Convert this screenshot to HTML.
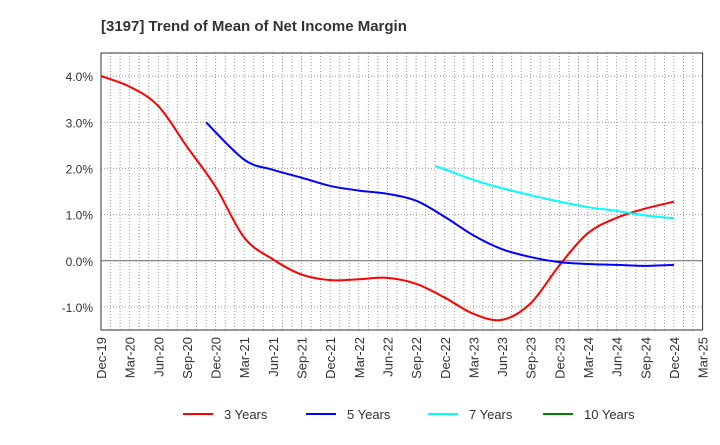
<!DOCTYPE html>
<html><head><meta charset="utf-8"><style>
body{margin:0;background:#fff;font-family:"Liberation Sans",sans-serif;}
</style></head><body>
<svg id="chart" width="720" height="440" xmlns="http://www.w3.org/2000/svg">
<rect width="720" height="440" fill="#fff"/>
<text x="101" y="31" font-size="15" font-weight="bold" fill="#333">[3197]  Trend of Mean of Net Income Margin</text>
<g id="grid"></g><g id="axes"></g><g id="series"></g><g id="legend"></g>
</svg>
<script>
const xLabels=["Dec-19","Mar-20","Jun-20","Sep-20","Dec-20","Mar-21","Jun-21","Sep-21","Dec-21","Mar-22","Jun-22","Sep-22","Dec-22","Mar-23","Jun-23","Sep-23","Dec-23","Mar-24","Jun-24","Sep-24","Dec-24","Mar-25"];
const yTicks=[4,3,2,1,0,-1];
const yTickLabels=["4.0%","3.0%","2.0%","1.0%","0.0%","-1.0%"];
const seriesNames=["3 Years","5 Years","7 Years","10 Years"];
const seriesColors=["#ff0000","#0000ff","#00ffff","#008000"];
// months since Dec-19
const m3=[0,3,6,9,12,15,18,21,24,27,30,33,36,39,42,45,48,51,54,57,60];
const v3=[4.0,3.77,3.35,2.47,1.6,0.5,0.03,-0.3,-0.42,-0.4,-0.37,-0.5,-0.8,-1.15,-1.28,-0.92,-0.1,0.6,0.93,1.13,1.28];
const m5=[11,15,18,21,24,27,30,33,36,39,42,45,48,51,54,57,60];
const v5=[3.0,2.19,1.97,1.8,1.62,1.52,1.45,1.3,0.95,0.55,0.25,0.08,-0.03,-0.07,-0.09,-0.11,-0.09];
const m7=[35,36,39,42,45,48,51,54,57,60];
const v7=[2.05,1.98,1.75,1.57,1.42,1.28,1.16,1.08,0.98,0.92];
const m10=[];const v10=[];
const L=101,R=702.6,T=53,B=330,yMin=-1.5,yMax=4.5,mMax=63;
const X=m=>L+(R-L)*m/mMax, Y=v=>B-(B-T)*(v-yMin)/(yMax-yMin);
const NS="http://www.w3.org/2000/svg";
function mk(t,a,p){const e=document.createElementNS(NS,t);for(const k in a)e.setAttribute(k,a[k]);p.appendChild(e);return e;}
const grid=document.getElementById('grid'),axes=document.getElementById('axes'),ser=document.getElementById('series'),leg=document.getElementById('legend');
for(let m=1;m<mMax;m++){const l=mk('line',{x1:X(m),x2:X(m),y1:T,y2:B,stroke:'#999','stroke-width':1,'stroke-dasharray':'1,2'},grid);

}
yTicks.forEach((v,i)=>{const l=mk('line',{x1:L,x2:R,y1:Y(v),y2:Y(v),stroke:v===0?'#666':'#999','stroke-width':1,'stroke-dasharray':v===0?'':'1,2'},grid);


const t=mk('text',{x:L-8,y:Y(v)+5,'text-anchor':'end','font-size':12,fill:'#333'},axes);t.textContent=yTickLabels[i];

});
const fr=mk('rect',{x:L,y:T,width:R-L,height:B-T,fill:'none',stroke:'#333','stroke-width':1},axes);


xLabels.forEach((s,i)=>{const x=X(i*3);const t=mk('text',{x:0,y:0,'text-anchor':'end','font-size':13,fill:'#333',transform:`translate(${x+5},${B+7}) rotate(-90)`},axes);t.textContent=s;

});
function path(ms,vs){const p=ms.map((m,i)=>[X(m),Y(vs[i])]);if(p.length<2)return '';let d=`M${p[0][0]},${p[0][1]}`;
for(let i=0;i<p.length-1;i++){const p0=p[Math.max(0,i-1)],p1=p[i],p2=p[i+1],p3=p[Math.min(p.length-1,i+2)];
const c1=[p1[0]+(p2[0]-p0[0])/6,p1[1]+(p2[1]-p0[1])/6],c2=[p2[0]-(p3[0]-p1[0])/6,p2[1]-(p3[1]-p1[1])/6];
d+=`C${c1[0]},${c1[1]} ${c2[0]},${c2[1]} ${p2[0]},${p2[1]}`;}return d;}
[[m3,v3],[m5,v5],[m7,v7],[m10,v10]].forEach((s,i)=>{const d=path(s[0],s[1]);if(!d)return;
const e=mk('path',{d:d,fill:'none',stroke:seriesColors[i],'stroke-width':2},ser);

});
const lx=[183,306,428,543];
seriesNames.forEach((n,i)=>{const g=mk('g',{},leg);


mk('line',{x1:lx[i],x2:lx[i]+30,y1:414,y2:414,stroke:seriesColors[i],'stroke-width':2},g);
const t=mk('text',{x:lx[i]+41,y:419,'font-size':13,fill:'#333'},g);t.textContent=n;});
</script>
</body></html>
